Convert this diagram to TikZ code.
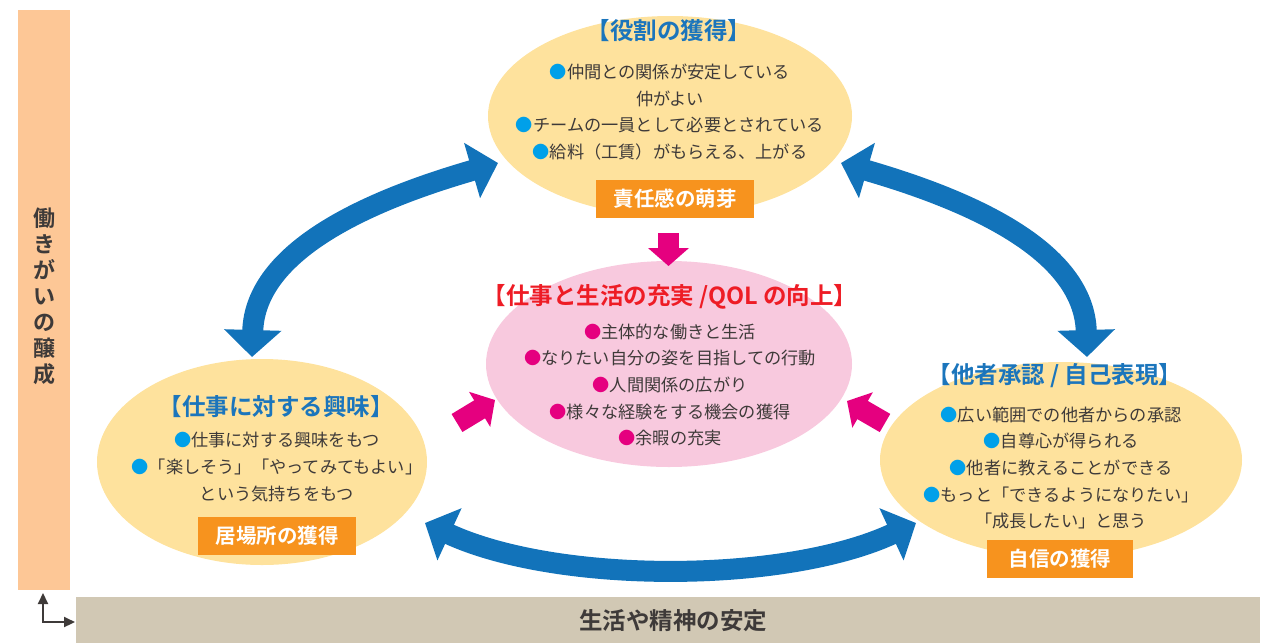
\documentclass[tikz,border=0pt]{standalone}
\usepackage{fontspec}
\setmainfont{Noto Sans CJK JP}[BoldFont={Noto Sans CJK JP Bold}]
\usetikzlibrary{arrows.meta}
\definecolor{yel}{HTML}{FEE29D}
\definecolor{pinkbg}{HTML}{F8C9DE}
\definecolor{obox}{HTML}{F7931E}
\definecolor{bblue}{HTML}{1273BA}
\definecolor{tblue}{HTML}{1B75BC}
\definecolor{tred}{HTML}{EE1C25}
\definecolor{mag}{HTML}{E5007F}
\definecolor{cyanb}{HTML}{00A0E9}
\definecolor{peach}{HTML}{FDC796}
\definecolor{greyb}{HTML}{D1C8B4}
\definecolor{txt}{HTML}{3E3A39}
\newcommand{\cbul}{{\color{cyanb}●}}
\newcommand{\pbul}{{\color{mag}●}}
\tikzset{
  ttl/.style={font=\fontsize{23.5}{26}\selectfont\bfseries, inner sep=0pt},
  bodytxt/.style={font=\fontsize{17.2}{26.6}\selectfont, text=txt, align=center, inner sep=0pt},
  orbox/.style={fill=obox, text=white, font=\fontsize{20.5}{22}\selectfont\bfseries, inner sep=0pt, minimum height=38pt},
  bigarrow/.style={draw=bblue, line width=21pt, arrows={Triangle[length=27pt,width=56pt]-Triangle[length=27pt,width=56pt]}},
  pinkarrow/.style={draw=mag, line width=21pt, arrows={-Triangle[length=18pt,width=40pt]}},
  cornerarrow/.style={draw=txt, line width=2.2pt, arrows={Triangle[length=11pt,width=10pt]-Triangle[length=11pt,width=10pt]}},
}
\begin{document}
\begin{tikzpicture}[x=1pt,y=-1pt]
\useasboundingbox (0,0) rectangle (1273,643);
% side bars
\fill[peach] (18,10) rectangle (70,590);
\node[font=\fontsize{22}{26}\selectfont\bfseries, text=txt, align=center, inner sep=0pt] (side) at (44,296) {働\\き\\が\\い\\の\\醸\\成};
\fill[greyb] (76,597) rectangle (1260,643);
\node[font=\fontsize{23.5}{24}\selectfont\bfseries, text=txt, inner sep=0pt] (base) at (673,621) {生活や精神の安定};
\coordinate (la) at (43,593);
\coordinate (lc) at (43,622);
\coordinate (lb) at (75,622);
\draw[cornerarrow] (la) -- (lc) -- (lb);
% ellipses
\fill[yel] (670,116) ellipse [x radius=182, y radius=100];
\fill[pinkbg] (669,364) ellipse [x radius=183, y radius=103];
\fill[yel] (262,462) ellipse [x radius=165, y radius=103];
\fill[yel] (1061,460) ellipse [x radius=181, y radius=98];
% top
\node[ttl, text=tblue] (t1) at (669,31) {【役割の獲得】};
\node[bodytxt] (b1) at (670,112) {\cbul 仲間との関係が安定している\\仲がよい\\\cbul チームの一員として必要とされている\\\cbul 給料（工賃）がもらえる、上がる};
\node[orbox, minimum width=158pt] (o1) at (675,199) {責任感の萌芽};
% center
\node[ttl, text=tred] (t2) at (670,297) {【仕事と生活の充実 /QOL の向上】};
\node[bodytxt] (b2) at (670,385) {\pbul 主体的な働きと生活\\\pbul なりたい自分の姿を目指しての行動\\\pbul 人間関係の広がり\\\pbul 様々な経験をする機会の獲得\\\pbul 余暇の充実};
% left
\node[ttl, text=tblue] (t3) at (276,407) {【仕事に対する興味】};
\node[bodytxt] (b3) at (277,467) {\cbul 仕事に対する興味をもつ\\\cbul 「楽しそう」「やってみてもよい」\\という気持ちをもつ};
\node[orbox, minimum width=158pt] (o3) at (277,536) {居場所の獲得};
% right
\node[ttl, text=tblue] (t4) at (1055,376) {【他者承認 / 自己表現】};
\node[bodytxt] (b4) at (1061,468) {\cbul 広い範囲での他者からの承認\\\cbul 自尊心が得られる\\\cbul 他者に教えることができる\\\cbul もっと「できるようになりたい」\\「成長したい」と思う};
\node[orbox, minimum width=146pt] (o4) at (1060,559) {自信の獲得};
% blue arrows
\coordinate (a1) at (252,357);
\coordinate (a2) at (498,163);
\coordinate (a3) at (1087,357);
\coordinate (a4) at (841,163);
\coordinate (a5) at (425,523);
\coordinate (a6) at (916,523);
\draw[bigarrow] (a1) .. controls (255,250) and (370,200) .. (a2);
\draw[bigarrow] (a3) .. controls (1084,250) and (969,200) .. (a4);
\draw[bigarrow] (a5) .. controls (557,584) and (784,584) .. (a6);
% pink arrows
\coordinate (p1) at (668.5,233);
\coordinate (p2) at (668.5,266);
\coordinate (p3) at (457,423);
\coordinate (p4) at (495,400);
\coordinate (p5) at (885,423);
\coordinate (p6) at (847,401);
\draw[pinkarrow] (p1) -- (p2);
\draw[pinkarrow] (p3) -- (p4);
\draw[pinkarrow] (p5) -- (p6);
\end{tikzpicture}
\end{document}
